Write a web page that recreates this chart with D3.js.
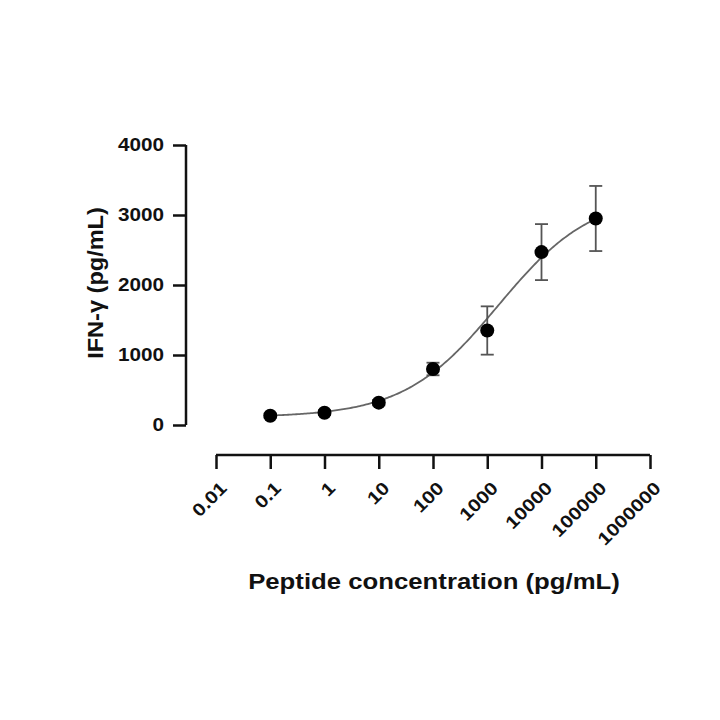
<!DOCTYPE html>
<html>
<head>
<meta charset="utf-8">
<script src="https://cdnjs.cloudflare.com/ajax/libs/d3/7.8.5/d3.min.js"></script>
<style>
  body { margin: 0; background: #fff; }
  svg { display: block; }
  text { font-family: "Liberation Sans", Arial, sans-serif; font-weight: bold; fill: #111; }
  .axis path, .axis line { stroke: #111; stroke-width: 2.5px; }
  .axis text { font-size: 18px; }
</style>
</head>
<body>
<svg width="720" height="720"></svg>
<script>
  // measured values
  var conc = [0.1, 1, 10, 100, 1000, 10000, 100000];
  var ifng = [133, 176, 319, 800, 1350, 2470, 2950];
  var sem  = [30, 35, 40, 90, 345, 400, 465];

  var xTicks = [0.01, 0.1, 1, 10, 100, 1000, 10000, 100000, 1000000];
  var xTickLabels = ["0.01", "0.1", "1", "10", "100", "1000", "10000", "100000", "1000000"];
  var yTicks = [0, 1000, 2000, 3000, 4000];

  // 4PL fit: bottom, top, logEC50, hill
  var fitParams = [110, 3300, 3.2, 0.5];

  var svg = d3.select("svg");

  var x = d3.scaleLog().domain([0.01, 1000000]).range([216, 650]);
  var y = d3.scaleLinear().domain([0, 4000]).range([425, 145]);

  // y axis
  var yAxis = svg.append("g")
      .attr("class", "axis")
      .attr("transform", "translate(186,0)")
      .call(d3.axisLeft(y).tickValues(yTicks).tickFormat(d3.format("d")).tickSize(13).tickSizeOuter(0));
  yAxis.select(".domain").attr("d", "M0," + y(0) + "V" + y(4000));
  yAxis.selectAll(".tick text")
      .attr("x", 0)
      .attr("transform", "translate(-22,0) scale(1.15,1)");

  // x axis
  var xAxis = svg.append("g")
      .attr("class", "axis")
      .attr("transform", "translate(0,455)")
      .call(d3.axisBottom(x).tickValues(xTicks).tickFormat(function(d, i) { return xTickLabels[i]; })
        .tickSize(14).tickSizeOuter(0));
  xAxis.select(".domain").attr("d", "M" + x(0.01) + ",0H" + x(1000000));
  xAxis.selectAll(".tick text")
      .attr("text-anchor", "end")
      .attr("y", 0)
      .attr("dy", "0.35em")
      .attr("transform", "translate(7,30) rotate(-45) scale(1.15,1)");

  // fitted curve
  function fourPL(lx) {
    var b = fitParams[0], t = fitParams[1], c = fitParams[2], h = fitParams[3];
    return b + (t - b) / (1 + Math.pow(10, (c - lx) * h));
  }
  var lx0 = Math.log10(conc[0]), lx1 = Math.log10(conc[conc.length - 1]);
  var curve = d3.range(0, 201).map(function(i) {
    var lx = lx0 + (lx1 - lx0) * i / 200;
    return [Math.pow(10, lx), fourPL(lx)];
  });
  svg.append("path")
      .datum(curve)
      .attr("fill", "none")
      .attr("stroke", "#666")
      .attr("stroke-width", 1.8)
      .attr("d", d3.line().x(function(d) { return x(d[0]); }).y(function(d) { return y(d[1]); }));

  var pts = conc.map(function(c, i) { return { c: c, v: ifng[i], e: sem[i] }; });

  // error bars
  var eb = svg.append("g").attr("stroke", "#555").attr("stroke-width", 1.8);
  eb.selectAll("line.v").data(pts).enter().append("line")
      .attr("x1", function(d) { return x(d.c); })
      .attr("x2", function(d) { return x(d.c); })
      .attr("y1", function(d) { return y(d.v - d.e); })
      .attr("y2", function(d) { return y(d.v + d.e); });
  eb.selectAll("line.top").data(pts).enter().append("line")
      .attr("x1", function(d) { return x(d.c) - 6.5; })
      .attr("x2", function(d) { return x(d.c) + 6.5; })
      .attr("y1", function(d) { return y(d.v + d.e); })
      .attr("y2", function(d) { return y(d.v + d.e); });
  eb.selectAll("line.bot").data(pts).enter().append("line")
      .attr("x1", function(d) { return x(d.c) - 6.5; })
      .attr("x2", function(d) { return x(d.c) + 6.5; })
      .attr("y1", function(d) { return y(d.v - d.e); })
      .attr("y2", function(d) { return y(d.v - d.e); });

  // points
  svg.append("g").selectAll("circle").data(pts).enter().append("circle")
      .attr("cx", function(d) { return x(d.c); })
      .attr("cy", function(d) { return y(d.v); })
      .attr("r", 7)
      .attr("fill", "#000");

  // axis titles
  svg.append("text")
      .attr("transform", "translate(103,283) rotate(-90) scale(1.07,1)")
      .attr("text-anchor", "middle")
      .style("font-size", "22px")
      .text("IFN-γ (pg/mL)");

  svg.append("text")
      .attr("transform", "translate(434,589) scale(1.17,1)")
      .attr("text-anchor", "middle")
      .style("font-size", "22px")
      .text("Peptide concentration (pg/mL)");
</script>
</body>
</html>
